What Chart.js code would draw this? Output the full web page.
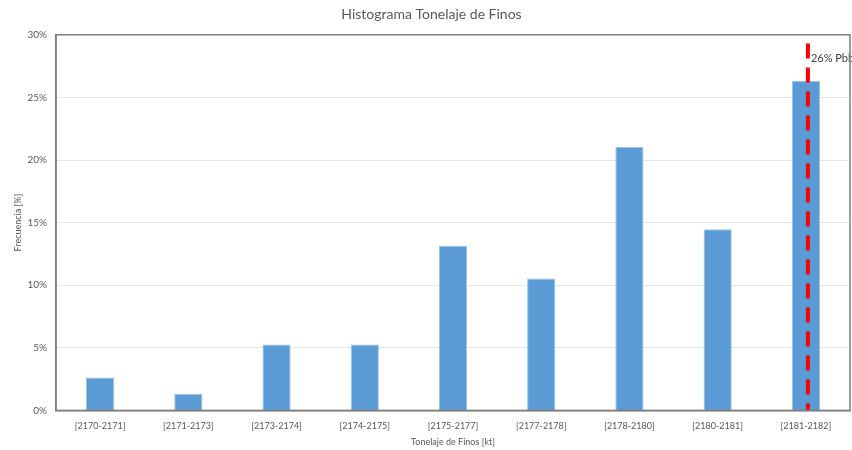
<!DOCTYPE html>
<html lang="es">
<head>
    <meta charset="UTF-8">
    <title>Histograma Tonelaje de Finos</title>
    <script src="https://cdn.jsdelivr.net/npm/chart.js"></script>
    <style>
        html, body { margin: 0; padding: 0; background: #fff; }
        #wrap { width: 852px; height: 450px; }
    </style>
</head>
<body>
    <div id="wrap"><canvas id="histo"></canvas></div>
    <script>
        // Datos del histograma
        const categories = ['[2170-2171]', '[2171-2173]', '[2173-2174]', '[2174-2175]', '[2175-2177]',
                            '[2177-2178]', '[2178-2180]', '[2180-2181]', '[2181-2182]'];
        const frecuencia = [2.63, 1.32, 5.26, 5.26, 13.16, 10.53, 21.05, 14.47, 26.32];
        const yTicks = [0, 5, 10, 15, 20, 25, 30];
        const pbbCategory = '[2181-2182]';
        const pbbLabel = '26% Pbb';
        const pbbTop = 29.3;

        const fontFam = 'Lato, "Open Sans", sans-serif';

        // Linea roja de Pbb y marco del area del grafico
        const pbbPlugin = {
            id: 'pbb',
            afterDatasetsDraw(chart) {
                const { ctx, chartArea, scales } = chart;
                const x = scales.x.getPixelForValue(categories.indexOf(pbbCategory)) + 2;
                const yTop = scales.y.getPixelForValue(pbbTop);
                const yBot = scales.y.getPixelForValue(0);
                ctx.save();
                ctx.strokeStyle = '#ff0000';
                ctx.lineWidth = 4;
                ctx.setLineDash([15, 9]);
                ctx.beginPath();
                ctx.moveTo(x, yTop);
                ctx.lineTo(x, yBot);
                ctx.stroke();
                ctx.setLineDash([]);
                ctx.fillStyle = '#404040';
                ctx.font = '11px ' + fontFam;
                ctx.textBaseline = 'middle';
                ctx.fillText(pbbLabel, x + 3, scales.y.getPixelForValue(28.1));
                // marco
                ctx.strokeStyle = '#7f7f7f';
                ctx.lineWidth = 1.5;
                ctx.strokeRect(chartArea.left, chartArea.top, chartArea.right - chartArea.left, chartArea.bottom - chartArea.top);
                ctx.restore();
            }
        };

        new Chart(document.getElementById('histo'), {
            type: 'bar',
            data: {
                labels: categories,
                datasets: [{
                    data: frecuencia,
                    backgroundColor: '#5b9bd5',
                    borderColor: '#9dc3e6',
                    borderWidth: 1,
                    categoryPercentage: 0.32,
                    barPercentage: 1.0
                }]
            },
            options: {
                responsive: true,
                maintainAspectRatio: false,
                animation: false,
                layout: { padding: { top: 6, right: 2, left: 13, bottom: 3 } },
                plugins: {
                    legend: { display: false },
                    tooltip: { enabled: false },
                    title: {
                        display: true,
                        text: 'Histograma Tonelaje de Finos',
                        color: '#595959',
                        font: { family: fontFam, size: 14, weight: 'normal' },
                        padding: { top: 0, bottom: 12 }
                    }
                },
                scales: {
                    x: {
                        grid: { display: false },
                        border: { color: '#7f7f7f', width: 1.5 },
                        ticks: {
                            color: '#595959',
                            font: { family: fontFam, size: 9 },
                            maxRotation: 0,
                            padding: 2
                        },
                        title: {
                            display: true,
                            text: 'Tonelaje de Finos [kt]',
                            color: '#595959',
                            font: { family: fontFam, size: 9 },
                            padding: { top: 3, bottom: 0 }
                        }
                    },
                    y: {
                        min: 0,
                        max: 30,
                        afterBuildTicks(axis) {
                            axis.ticks = yTicks.map(v => ({ value: v }));
                        },
                        afterFit(axis) {
                            axis.width = 43;
                        },
                        grid: { color: '#e6e6e6', drawTicks: false },
                        border: { color: '#7f7f7f', width: 1.5 },
                        ticks: {
                            color: '#595959',
                            font: { family: fontFam, size: 10 },
                            padding: 9,
                            callback: v => v + '%'
                        },
                        title: {
                            display: true,
                            text: 'Frecuencia [%]',
                            color: '#595959',
                            font: { family: fontFam, size: 9 },
                            padding: { top: 0, bottom: 3 }
                        }
                    }
                }
            },
            plugins: [pbbPlugin]
        });
    </script>
</body>
</html>
